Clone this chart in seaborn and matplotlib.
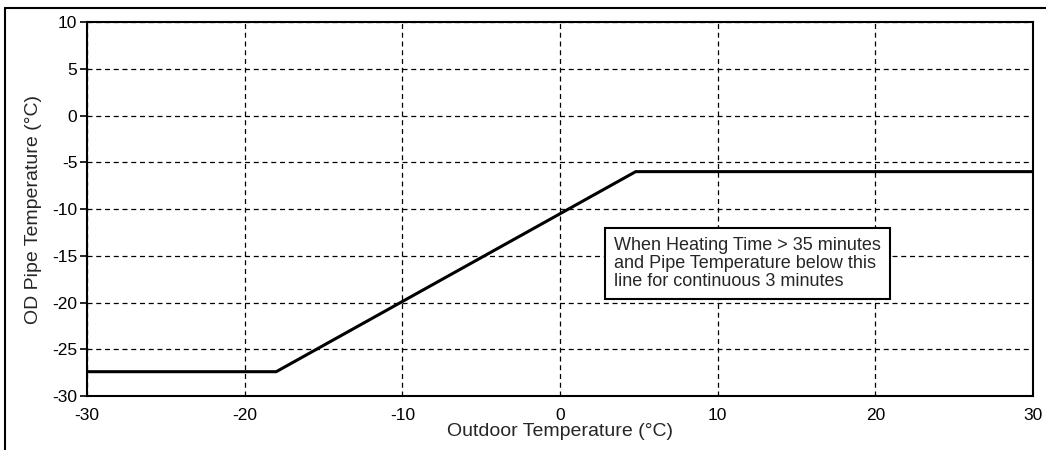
import matplotlib
matplotlib.use("Agg")
import matplotlib.pyplot as plt
import seaborn as sns
import pandas as pd

# threshold curve
outdoor_temp = [-30, -18, 4.8, 30]
pipe_temp = [-27.4, -27.4, -6, -6]
x_ticks = [-30, -20, -10, 0, 10, 20, 30]
y_ticks = [-30, -25, -20, -15, -10, -5, 0, 5, 10]
note = "When Heating Time > 35 minutes\nand Pipe Temperature below this\nline for continuous 3 minutes"

df = pd.DataFrame({"Outdoor": outdoor_temp, "Pipe": pipe_temp})

sns.set_style("white")
plt.rcParams['font.family'] = ['Liberation Sans', 'DejaVu Sans']
plt.rcParams['axes.unicode_minus'] = False

fig = plt.figure(figsize=(10.46, 4.5), dpi=100)
ax = fig.add_axes([0.0832, 0.12, 0.9044, 0.831])

sns.lineplot(data=df, x="Outdoor", y="Pipe", color="black", linewidth=2.2,
             sort=False, estimator=None, ax=ax)

ax.set_xlim(-30, 30)
ax.set_ylim(-30, 10)
ax.set_xticks(x_ticks)
ax.set_yticks(y_ticks)
ax.tick_params(axis="y", direction="out", length=5, width=1.2, colors="black",
               labelsize=12.5, pad=2, left=True)
ax.tick_params(axis="x", length=0, colors="black", labelsize=12.5, pad=9, bottom=True)
ax.grid(True, color="black", linestyle=(0, (4, 3)), linewidth=0.9)
for s in ax.spines.values():
    s.set_color("black")
    s.set_linewidth(1.5)

ax.set_xlabel("Outdoor Temperature (°C)", fontsize=14, labelpad=0)
ax.set_ylabel("OD Pipe Temperature (°C)", fontsize=14, labelpad=7)

ax.text(3.4, -13.0, note, fontsize=13, va="top", ha="left", linespacing=1.08,
        bbox=dict(boxstyle="square,pad=0.5", fc="white", ec="black", lw=1.5))

# outer frame (left and top visible)
fig.add_artist(plt.Line2D([0.005, 0.005], [0, 0.982], color="black", lw=1.5,
                          transform=fig.transFigure))
fig.add_artist(plt.Line2D([0.005, 1], [0.982, 0.982], color="black", lw=1.5,
                          transform=fig.transFigure))

fig.savefig("out.png", dpi=100)
